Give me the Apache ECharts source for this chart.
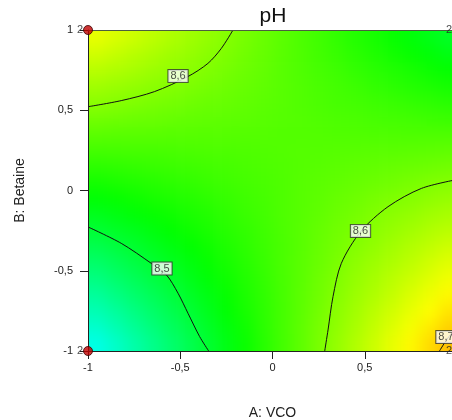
<!DOCTYPE html>
<html>
<head>
<meta charset="utf-8">
<script src="https://cdn.jsdelivr.net/npm/echarts@6/dist/echarts.min.js"></script>
<style>
  html, body { margin: 0; padding: 0; background: #fff; overflow: hidden; }
  /* wider than the window: the plot runs past the right edge, as in the original */
  #chart { width: 480px; height: 420px; }
</style>
</head>
<body>
<div id="chart"></div>
<script>
// cell centres of the response grid (coded units)
const gridA = [-0.95, -0.85, -0.75, -0.65, -0.55, -0.45, -0.35, -0.25, -0.15, -0.05,
  0.05, 0.15, 0.25, 0.35, 0.45, 0.55, 0.65, 0.75, 0.85, 0.95];
// rows listed top to bottom
const gridB = [0.95, 0.85, 0.75, 0.65, 0.55, 0.45, 0.35, 0.25, 0.15, 0.05,
  -0.05, -0.15, -0.25, -0.35, -0.45, -0.55, -0.65, -0.75, -0.85, -0.95];

const phRows = [
  [8.657, 8.649, 8.642, 8.634, 8.626, 8.618, 8.611, 8.603, 8.595, 8.588, 8.580, 8.572, 8.565, 8.557, 8.549, 8.542, 8.534, 8.526, 8.519, 8.511],
  [8.644, 8.638, 8.631, 8.625, 8.618, 8.612, 8.605, 8.599, 8.592, 8.586, 8.579, 8.573, 8.566, 8.560, 8.553, 8.547, 8.540, 8.534, 8.527, 8.521],
  [8.631, 8.626, 8.621, 8.615, 8.610, 8.605, 8.600, 8.594, 8.589, 8.584, 8.578, 8.573, 8.568, 8.563, 8.557, 8.552, 8.547, 8.542, 8.536, 8.531],
  [8.618, 8.614, 8.610, 8.606, 8.602, 8.598, 8.594, 8.590, 8.586, 8.582, 8.578, 8.574, 8.570, 8.566, 8.562, 8.557, 8.553, 8.549, 8.545, 8.541],
  [8.606, 8.603, 8.600, 8.597, 8.594, 8.591, 8.588, 8.586, 8.583, 8.580, 8.577, 8.574, 8.571, 8.568, 8.566, 8.563, 8.560, 8.557, 8.554, 8.551],
  [8.593, 8.591, 8.589, 8.588, 8.586, 8.584, 8.583, 8.581, 8.580, 8.578, 8.576, 8.575, 8.573, 8.571, 8.570, 8.568, 8.566, 8.565, 8.563, 8.561],
  [8.580, 8.579, 8.579, 8.579, 8.578, 8.578, 8.577, 8.577, 8.576, 8.576, 8.575, 8.575, 8.575, 8.574, 8.574, 8.573, 8.573, 8.572, 8.572, 8.572],
  [8.567, 8.568, 8.569, 8.569, 8.570, 8.571, 8.572, 8.572, 8.573, 8.574, 8.575, 8.576, 8.576, 8.577, 8.578, 8.579, 8.579, 8.580, 8.581, 8.582],
  [8.554, 8.556, 8.558, 8.560, 8.562, 8.564, 8.566, 8.568, 8.570, 8.572, 8.574, 8.576, 8.578, 8.580, 8.582, 8.584, 8.586, 8.588, 8.590, 8.592],
  [8.541, 8.545, 8.548, 8.551, 8.554, 8.557, 8.561, 8.564, 8.567, 8.570, 8.573, 8.577, 8.580, 8.583, 8.586, 8.589, 8.592, 8.596, 8.599, 8.602],
  [8.528, 8.533, 8.537, 8.542, 8.546, 8.550, 8.555, 8.559, 8.564, 8.568, 8.572, 8.577, 8.581, 8.586, 8.590, 8.595, 8.599, 8.603, 8.608, 8.612],
  [8.516, 8.521, 8.527, 8.533, 8.538, 8.544, 8.549, 8.555, 8.561, 8.566, 8.572, 8.577, 8.583, 8.589, 8.594, 8.600, 8.606, 8.611, 8.617, 8.622],
  [8.503, 8.510, 8.516, 8.523, 8.530, 8.537, 8.544, 8.551, 8.557, 8.564, 8.571, 8.578, 8.585, 8.592, 8.598, 8.605, 8.612, 8.619, 8.626, 8.632],
  [8.490, 8.498, 8.506, 8.514, 8.522, 8.530, 8.538, 8.546, 8.554, 8.562, 8.570, 8.578, 8.586, 8.594, 8.602, 8.610, 8.619, 8.627, 8.635, 8.643],
  [8.477, 8.486, 8.496, 8.505, 8.514, 8.523, 8.533, 8.542, 8.551, 8.560, 8.570, 8.579, 8.588, 8.597, 8.607, 8.616, 8.625, 8.634, 8.644, 8.653],
  [8.464, 8.475, 8.485, 8.496, 8.506, 8.517, 8.527, 8.537, 8.548, 8.558, 8.569, 8.579, 8.590, 8.600, 8.611, 8.621, 8.632, 8.642, 8.652, 8.663],
  [8.451, 8.463, 8.475, 8.486, 8.498, 8.510, 8.521, 8.533, 8.545, 8.556, 8.568, 8.580, 8.591, 8.603, 8.615, 8.626, 8.638, 8.650, 8.661, 8.673],
  [8.439, 8.451, 8.464, 8.477, 8.490, 8.503, 8.516, 8.529, 8.542, 8.554, 8.567, 8.580, 8.593, 8.606, 8.619, 8.632, 8.645, 8.657, 8.670, 8.683],
  [8.426, 8.440, 8.454, 8.468, 8.482, 8.496, 8.510, 8.524, 8.538, 8.553, 8.567, 8.581, 8.595, 8.609, 8.623, 8.637, 8.651, 8.665, 8.679, 8.693],
  [8.413, 8.428, 8.444, 8.459, 8.474, 8.489, 8.505, 8.520, 8.535, 8.551, 8.566, 8.581, 8.596, 8.612, 8.627, 8.642, 8.658, 8.673, 8.688, 8.703],
];

// contour lines, [A, B]
const contour86Top = [[-1, 0.522], [-0.82, 0.56], [-0.64, 0.616], [-0.46, 0.709], [-0.35, 0.792], [-0.277, 0.886], [-0.214, 1]];
const contour85 = [[-1, -0.227], [-0.82, -0.329], [-0.657, -0.454], [-0.575, -0.526], [-0.512, -0.64], [-0.458, -0.765], [-0.395, -0.91], [-0.346, -1]];
const contour86Bottom = [[0.283, -1], [0.301, -0.869], [0.328, -0.661], [0.373, -0.454], [0.478, -0.256], [0.626, -0.101], [0.807, 0.013], [1, 0.068]];
const contour87 = [[0.905, -1], [0.95, -0.92], [1, -0.85]];

// contour labels [A, B, text]
const contourLabels = [
  [-0.512, 0.713, "8,6"],
  [0.477, -0.252, "8,6"],
  [-0.599, -0.486, "8,5"],
  [0.94, -0.913, "8,7"],
];

// design points with replicate counts
const designPoints = [[-1, 1, "2"], [-1, -1, "2"], [1, 1, "2"], [1, -1, "2"]];

const xTicks = [-1, -0.5, 0, 0.5, 1];
const yTicks = [-1, -0.5, 0, 0.5, 1];

const cells = [];
gridB.forEach((b, j) => {
  gridA.forEach((a, i) => cells.push([a, b, phRows[j][i]]));
});
const halfA = (gridA[1] - gridA[0]) / 2;
const halfB = (gridB[0] - gridB[1]) / 2;

// blue - cyan - green - yellow - red ramp, stops at uneven pH values
const rampStops = [
  [8.28, [0, 0, 255]],
  [8.40, [0, 255, 255]],
  [8.53, [0, 255, 0]],
  [8.67, [255, 255, 0]],
  [8.80, [255, 0, 0]],
];
const rampMin = rampStops[0][0];
const rampMax = rampStops[rampStops.length - 1][0];
const palette = [];
for (let k = 0; k <= 52; k++) {
  const v = rampMin + (rampMax - rampMin) * k / 52;
  let s = 0;
  while (s < rampStops.length - 2 && v > rampStops[s + 1][0]) s++;
  const [v0, c0] = rampStops[s];
  const [v1, c1] = rampStops[s + 1];
  const t = Math.min(1, Math.max(0, (v - v0) / (v1 - v0)));
  const c = c0.map((x, i) => Math.round(x + (c1[i] - x) * t));
  palette.push(`rgb(${c[0]},${c[1]},${c[2]})`);
}

const fmt = (v) => String(v).replace(".", ",");
const FONT = "'Liberation Sans', Arial, sans-serif";

const GRID = { left: 88, top: 30, width: 369, height: 321 };
const W = 480, H = 420;

const chart = echarts.init(document.getElementById("chart"), null, { renderer: "canvas" });

const lineSeries = (data) => ({
  type: "line",
  data,
  smooth: 0.3,
  symbol: "none",
  clip: true,
  silent: true,
  lineStyle: { color: "#111", width: 1 },
  zlevel: 1,
  z: 3,
});

chart.setOption({
  animation: false,
  textStyle: { fontFamily: FONT },
  title: {
    text: "pH",
    left: 268,
    textAlign: "center",
    top: 1,
    zlevel: 1,
    textStyle: { fontSize: 21, fontWeight: "normal", color: "#111", fontFamily: FONT },
  },
  grid: { ...GRID, containLabel: false, outerBoundsMode: "none" },
  visualMap: {
    show: false,
    type: "continuous",
    dimension: 2,
    seriesIndex: 0,
    min: rampMin,
    max: rampMax,
    inRange: { color: palette },
  },
  xAxis: [
    {
      type: "value",
      min: xTicks[0],
      max: xTicks[xTicks.length - 1],
      interval: 0.5,
      position: "bottom",
      zlevel: 1,
      z: 5,
      splitLine: { show: false },
      axisLine: { onZero: false, lineStyle: { color: "#222", width: 1 } },
      axisTick: { length: 8, lineStyle: { color: "#222" } },
      axisLabel: { fontSize: 11, color: "#222", margin: 11, formatter: fmt },
      name: "A: VCO",
      nameLocation: "middle",
      nameGap: 55,
      nameTextStyle: { fontSize: 14, color: "#222" },
    },
    {
      type: "value",
      min: -1,
      max: 1,
      position: "top",
      zlevel: 1,
      z: 5,
      splitLine: { show: false },
      axisLine: { onZero: false, lineStyle: { color: "#4d5d40", width: 1 } },
      axisTick: { show: false },
      axisLabel: { show: false },
    },
  ],
  yAxis: {
    type: "value",
    min: yTicks[0],
    max: yTicks[yTicks.length - 1],
    interval: 0.5,
    zlevel: 1,
    z: 5,
    splitLine: { show: false },
    axisLine: { onZero: false, lineStyle: { color: "#222", width: 1 } },
    axisTick: { length: 8, lineStyle: { color: "#222" } },
    axisLabel: { fontSize: 11, color: "#222", margin: 15, formatter: fmt },
    name: "B: Betaine",
    nameLocation: "middle",
    nameGap: 61,
    nameTextStyle: { fontSize: 14, color: "#222" },
  },
  series: [
    {
      // colour field on its own layer so it can be softened below
      type: "custom",
      data: cells,
      encode: { x: 0, y: 1 },
      clip: false,
      silent: true,
      zlevel: 0,
      z: 1,
      renderItem: (params, api) => {
        const a = api.value(0);
        const b = api.value(1);
        const p0 = api.coord([a - halfA, b + halfB]);
        const p1 = api.coord([a + halfA, b - halfB]);
        let x0 = p0[0], y0 = p0[1], x1 = p1[0] + 0.6, y1 = p1[1] + 0.6;
        // stretch the outer ring so the softening does not fade the edges
        if (a === gridA[0]) x0 -= 30;
        if (a === gridA[gridA.length - 1]) x1 += 30;
        if (b === gridB[0]) y0 -= 30;
        if (b === gridB[gridB.length - 1]) y1 += 30;
        return {
          type: "rect",
          shape: { x: x0, y: y0, width: x1 - x0, height: y1 - y0 },
          style: { fill: api.visual("color") },
        };
      },
    },
    lineSeries(contour86Top),
    lineSeries(contour85),
    lineSeries(contour86Bottom),
    lineSeries(contour87),
    {
      type: "scatter",
      data: contourLabels,
      symbolSize: 1,
      itemStyle: { color: "transparent" },
      silent: true,
      zlevel: 1,
      z: 4,
      label: {
        show: true,
        position: "inside",
        formatter: (p) => p.value[2],
        fontSize: 11,
        color: "#222",
        backgroundColor: "#fff",
        borderColor: "#333",
        borderWidth: 1,
        padding: [1, 2, 0, 2],
      },
    },
    {
      type: "scatter",
      data: designPoints,
      symbolSize: 9,
      silent: true,
      zlevel: 1,
      z: 10,
      itemStyle: { color: "#c00000", borderColor: "#3a0000", borderWidth: 1 },
      label: {
        show: true,
        position: "left",
        distance: 0,
        formatter: (p) => p.value[2],
        fontSize: 11,
        color: "#222",
      },
    },
  ],
});

// smooth the cell steps of the colour layer and keep it inside the plot
function softenField() {
  const layer = chart.getZr().painter.getLayer(0);
  if (!layer || !layer.dom) return;
  const bottom = H - (GRID.top + GRID.height);
  const right = Math.max(0, W - (GRID.left + GRID.width));
  layer.dom.style.filter = "blur(7px)";
  layer.dom.style.clipPath = `inset(${GRID.top}px ${right}px ${bottom}px ${GRID.left}px)`;
}
softenField();
chart.on("finished", softenField);
</script>
</body>
</html>
